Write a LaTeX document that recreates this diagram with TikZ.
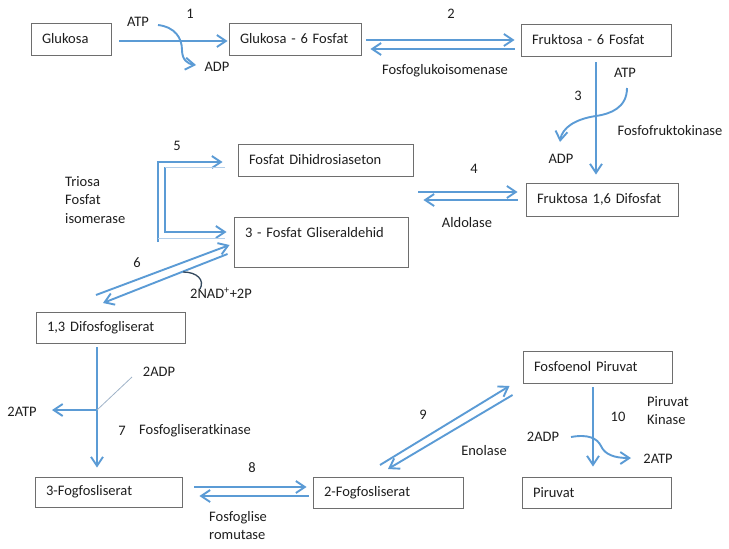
\documentclass[tikz,border=0pt]{standalone}
\usepackage{fontspec}
\setmainfont{Carlito}
\usetikzlibrary{arrows.meta,calc}
\definecolor{arrblue}{HTML}{5B9BD5}
\definecolor{boxgray}{HTML}{6E6E6E}
\definecolor{txt}{HTML}{1E1E1E}
\definecolor{lightblue}{HTML}{B4CFEA}
\definecolor{thinline}{HTML}{9FB3C8}
\definecolor{nadcol}{HTML}{34495E}
\begin{document}
\begin{tikzpicture}[x=1pt,y=-1pt,
  font=\fontsize{14.5}{17}\selectfont, text=txt,
  box/.style={draw=boxgray, line width=0.9pt, rectangle, inner xsep=11pt, inner ysep=0pt, align=left},
  lbl/.style={inner sep=0pt},
  arr/.style={draw=arrblue, line width=1.9pt, -{Straight Barb[length=9pt,width=12pt]}},
  plain/.style={draw=arrblue, line width=1.9pt},
  thin/.style={draw=lightblue, line width=1pt},
]
\useasboundingbox (0,0) rectangle (729,549);

% boxes
\node[box, minimum width=80pt, text width=58pt, minimum height=32pt] (glu) at (71,39) {Glukosa};
\node[box, minimum width=132pt, text width=110pt, minimum height=32pt] (g6p) at (295,39) {Glukosa - 6 Fosfat};
\node[box, minimum width=150pt, text width=128pt, minimum height=32pt] (f6p) at (596,40) {Fruktosa - 6 Fosfat};
\node[box, minimum width=175pt, text width=153pt, minimum height=32pt] (dhap) at (325.5,160) {Fosfat Dihidrosiaseton};
\node[box, minimum width=174pt, text width=152pt, minimum height=50pt, text height=10pt, text depth=20pt] (gap) at (321,242) {3 - Fosfat Gliseraldehid};
\node[box, minimum width=152pt, text width=130pt, minimum height=33pt] (f16) at (602,199.5) {Fruktosa 1,6 Difosfat};
\node[box, minimum width=149pt, text width=127pt, minimum height=31pt] (bpg) at (110.5,327.5) {1,3 Difosfogliserat};
\node[box, minimum width=147pt, text width=125pt, minimum height=30pt] (pg3) at (108.5,492) {3-Fogfosliserat};
\node[box, minimum width=150pt, text width=128pt, minimum height=31pt] (pg2) at (388,492.5) {2-Fogfosliserat};
\node[box, minimum width=149pt, text width=127pt, minimum height=32pt] (pep) at (597.5,367) {Fosfoenol Piruvat};
\node[box, minimum width=149pt, text width=127pt, minimum height=31pt] (pyr) at (596.5,492.5) {Piruvat};

% labels
\node[lbl] (n1) at (190,14) {1};
\node[lbl] (atp1) at (138,22) {ATP};
\node[lbl] (adp1) at (217,67) {ADP};
\node[lbl] (n2) at (451,14) {2};
\node[lbl] (enz2) at (445,71) {Fosfoglukoisomenase};
\node[lbl] (atp3) at (625,73) {ATP};
\node[lbl] (n3) at (578,96) {3};
\node[lbl] (adp3) at (561,159) {ADP};
\node[lbl] (enz3) at (670,131) {Fosfofruktokinase};
\node[lbl] (n4) at (474,169) {4};
\node[lbl] (enz4) at (467,223) {Aldolase};
\node[lbl] (n5) at (177,146) {5};
\node[lbl, anchor=north west, align=left, font=\fontsize{14.5}{18.5}\selectfont] (enz5) at (65,176) {Triosa\\Fosfat\\isomerase};
\node[lbl] (n6) at (137,263) {6};
\node[lbl, anchor=west] (nad) at (190,293) {2NAD\textsuperscript{+}+2P};
\node[lbl] (adp7) at (159,372) {2ADP};
\node[lbl] (atp7) at (22,412) {2ATP};
\node[lbl] (n7) at (122,431) {7};
\node[lbl, anchor=west] (enz7) at (139,431) {Fosfogliseratkinase};
\node[lbl] (n8) at (252,468) {8};
\node[lbl, anchor=north west, align=left, font=\fontsize{14.5}{18.5}\selectfont] (enz8) at (209,511) {Fosfoglise\\romutase};
\node[lbl] (n9) at (423,415) {9};
\node[lbl] (enz9) at (484,451) {Enolase};
\node[lbl] (n10) at (618,417) {10};
\node[lbl, anchor=north west, align=left, font=\fontsize{14.5}{18.5}\selectfont] (enz10) at (647,396) {Piruvat\\Kinase};
\node[lbl] (adp10) at (543,437) {2ADP};
\node[lbl] (atp10) at (658,459) {2ATP};

% 1
\draw[arr] ($(glu.east)+(8,2)$) -- ($(g6p.west)+(-1,2)$);
\coordinate (c1s) at (158,25);
\coordinate (c1e) at (196,65);
\draw[arr] (c1s) .. controls (175,27) and (182,38) .. (182,50) .. controls (182,60) and (188,64) .. (c1e);

% 2
\draw[arr] ($(g6p.east)+(5,1)$) -- ($(f6p.west)+(-6,0)$);
\draw[arr] ($(f6p.west)+(-6,9)$) -- ($(g6p.east)+(9,10)$);

% 3
\draw[arr] ($(f6p.south)+(0,6)$) -- ($(f16.north)+(-6,-8)$);
\coordinate (c3s) at (627,88);
\coordinate (c3m) at (596,116);
\coordinate (c3e) at (560,142);
\draw[arr] (c3s) .. controls (627,108) and (610,114) .. (c3m) .. controls (575,119) and (562,128) .. (c3e);

% 4
\draw[arr] ($(dhap.east)+(5,32)$) -- ($(f16.west)+(-8,-7.5)$);
\draw[arr] ($(f16.west)+(-8,0.5)$) -- ($(dhap.east)+(10,40)$);

% 5
\coordinate (b5a) at (158,242);
\coordinate (b5b) at (158,162);
\coordinate (b5c) at (165,167);
\coordinate (b5d) at (165,232);
\draw[plain, -{Straight Barb[length=9pt,width=12pt]}] (b5a) -- (b5b) -- ($(dhap.west)+(-15,2)$);
\draw[plain, -{Straight Barb[length=9pt,width=12pt]}] (b5c) -- (b5d) -- ($(gap.west)+(-7,-10)$);
\draw[thin] (b5c) -- ($(dhap.west)+(-13,7)$);
\draw[thin] ($(b5a)+(0,-4)$) -- ($(gap.west)+(-9,-4)$);

% 6
\coordinate (c6a) at (96,295);
\coordinate (c6b) at (103,303);
\draw[arr] (c6a) -- ($(gap.west)+(-4,3)$);
\draw[arr] ($(gap.west)+(-6,12)$) -- (c6b);
\coordinate (c6s) at (183,272);
\coordinate (c6e) at (200,289);
\draw[draw=nadcol, line width=1.3pt] (c6s) .. controls (197,272) and (205,280) .. (c6e);

% 7
\coordinate (c7m) at (97,410);
\coordinate (c7l) at (52,410);
\coordinate (c7t) at (132,377);
\draw[arr] ($(bpg.south)+(-13.5,4)$) -- ($(pg3.north)+(-11.5,-9)$);
\draw[arr] (c7m) -- (c7l);
\draw[draw=thinline, line width=0.8pt] (c7m) -- (c7t);

% 8
\draw[arr] ($(pg3.east)+(12,-5)$) -- ($(pg2.west)+(-6,-5.5)$);
\draw[arr] ($(pg2.west)+(-4,3.5)$) -- ($(pg3.east)+(17,4)$);

% 9
\coordinate (c9a) at (380,465);
\coordinate (c9b) at (388,469);
\draw[arr] (c9a) -- ($(pep.west)+(-13,19)$);
\draw[arr] ($(pep.west)+(-10,28)$) -- (c9b);

% 10
\draw[arr] ($(pep.south)+(-4.5,4)$) -- ($(pyr.north)+(-3.5,-10)$);
\coordinate (c10s) at (571,437);
\coordinate (c10e) at (631,458);
\draw[arr] (c10s) .. controls (588,434) and (597,438) .. (601,446) .. controls (605,455) and (615,458) .. (c10e);
\end{tikzpicture}
\end{document}
